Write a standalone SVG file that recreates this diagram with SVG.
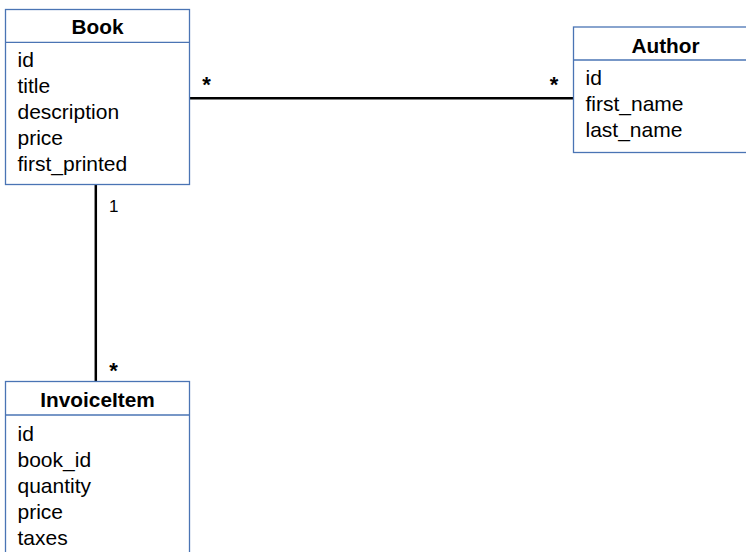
<svg xmlns="http://www.w3.org/2000/svg" width="746" height="552" viewBox="0 0 746 552">
<style>
.box{fill:#fff;stroke:#4a74b4;stroke-width:1.3}
.div{stroke:#4a74b4;stroke-width:1.3}
.title{font-family:"Liberation Sans",Arial,sans-serif;font-size:20.8px;font-weight:bold;text-anchor:middle;fill:#000}
.attr{font-family:"Liberation Sans",Arial,sans-serif;font-size:21px;fill:#000}
.lbl{font-family:"Liberation Sans",Arial,sans-serif;font-size:17px;fill:#000}
.star{font-family:"Liberation Sans",Arial,sans-serif;font-size:22px;font-weight:bold;fill:#000;text-anchor:middle}
.conn{stroke:#000;stroke-width:2.5;fill:none}
</style>
<rect width="746" height="552" fill="#fff"/>
<g id="connectors">
<line class="conn" x1="189.5" y1="98.3" x2="573.5" y2="98.3"/>
<line class="conn" x1="95.8" y1="184.5" x2="95.8" y2="381.5"/>
<text class="star" x="206.5" y="92">*</text>
<text class="star" x="554" y="92">*</text>
<text class="lbl" x="109" y="212">1</text>
<text class="star" x="113.5" y="378">*</text>
</g>
<g id="Book">
<rect class="box" x="5.5" y="9.5" width="184" height="175"/>
<line class="div" x1="5.5" y1="42.3" x2="189.5" y2="42.3"/>
<text class="title" x="97.5" y="33.5">Book</text>
<text class="attr" x="17.5" y="67">id</text>
<text class="attr" x="17.5" y="93">title</text>
<text class="attr" x="17.5" y="119">description</text>
<text class="attr" x="17.5" y="145">price</text>
<text class="attr" x="17.5" y="171">first_printed</text>
</g>
<g id="Author">
<rect class="box" x="573.5" y="27" width="184" height="125.5"/>
<line class="div" x1="573.5" y1="60" x2="757.5" y2="60"/>
<text class="title" x="665.5" y="52.5">Author</text>
<text class="attr" x="585.5" y="85">id</text>
<text class="attr" x="585.5" y="111">first_name</text>
<text class="attr" x="585.5" y="137">last_name</text>
</g>
<g id="InvoiceItem">
<rect class="box" x="5.5" y="381.5" width="184" height="180"/>
<line class="div" x1="5.5" y1="415" x2="189.5" y2="415"/>
<text class="title" x="97.5" y="407">InvoiceItem</text>
<text class="attr" x="17.5" y="441">id</text>
<text class="attr" x="17.5" y="467">book_id</text>
<text class="attr" x="17.5" y="493">quantity</text>
<text class="attr" x="17.5" y="519">price</text>
<text class="attr" x="17.5" y="545">taxes</text>
</g>
</svg>
